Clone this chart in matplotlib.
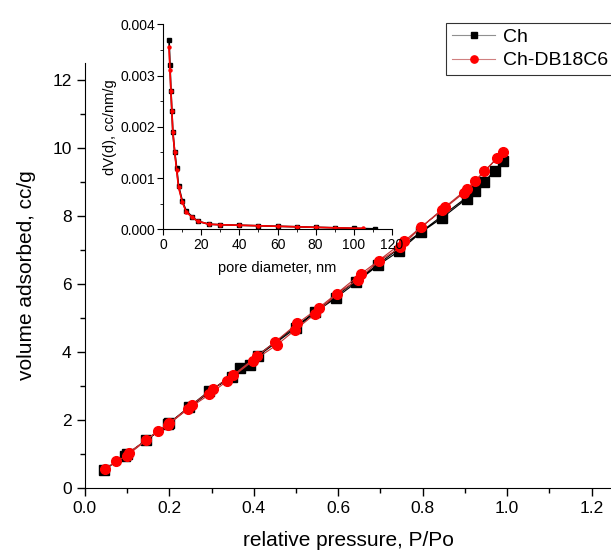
import matplotlib.pyplot as plt
from matplotlib.ticker import MultipleLocator

plt.rcParams['font.family'] = ['Liberation Sans', 'DejaVu Sans']

# isotherm: relative pressure P/Po vs volume adsorbed (cc/g), adsorption then desorption
p_ch = [0.046, 0.094, 0.145, 0.196, 0.246, 0.294, 0.348, 0.39, 0.41, 0.5, 0.546, 0.594,
        0.643, 0.694, 0.745, 0.797, 0.845, 0.904, 0.946, 0.99,
        0.971, 0.923, 0.368, 0.2, 0.1]
v_ch = [0.52, 0.93, 1.39, 1.86, 2.37, 2.84, 3.25, 3.6, 3.87, 4.7, 5.16, 5.58,
        6.04, 6.54, 6.97, 7.52, 7.93, 8.5, 8.98, 9.6,
        9.32, 8.72, 3.51, 1.9, 0.98]

p_db = [0.048, 0.073, 0.099, 0.145, 0.173, 0.196, 0.245, 0.295, 0.336, 0.397, 0.456,
        0.497, 0.545, 0.597, 0.646, 0.696, 0.747, 0.796, 0.846, 0.897, 0.946, 0.99,
        0.976, 0.925, 0.904, 0.853, 0.756, 0.655, 0.554, 0.503, 0.45, 0.408, 0.35,
        0.303, 0.253, 0.2, 0.104]
v_db = [0.55, 0.77, 0.93, 1.39, 1.67, 1.84, 2.32, 2.74, 3.13, 3.72, 4.21,
        4.63, 5.11, 5.7, 6.12, 6.66, 7.07, 7.66, 8.16, 8.67, 9.31, 9.89,
        9.69, 9.03, 8.78, 8.26, 7.25, 6.3, 5.29, 4.83, 4.28, 3.87, 3.3,
        2.91, 2.43, 1.9, 1.03]

# pore size distribution
d_ch = [3, 3.5, 4, 4.5, 5, 6, 7, 8, 10, 12, 15, 18, 24, 30, 40, 50, 60, 70, 80, 90, 100, 111]
dv_ch = [0.0037, 0.0032, 0.0027, 0.0023, 0.0019, 0.0015, 0.0012, 0.00085, 0.00055, 0.00036,
         0.00025, 0.00016, 0.0001, 0.00009, 0.00008, 0.00007, 0.00006, 0.00005, 0.00004,
         0.00003, 0.00002, 0.00001]
d_db = [3, 3.5, 4, 4.5, 5, 6, 7, 8, 10, 12, 15, 18, 24, 30, 40, 50, 60, 70, 80, 90, 105]
dv_db = [0.00355, 0.0031, 0.0027, 0.0023, 0.0019, 0.0015, 0.00115, 0.00082, 0.00053, 0.00034,
         0.00024, 0.00016, 0.0001, 0.00009, 0.00008, 0.00007, 0.00006, 0.00005, 0.00004,
         0.00003, 0.00002]

fig = plt.figure(figsize=(6.11, 5.5), dpi=100)
ax = fig.add_axes([0.139, 0.1136, 0.8638, 0.772])

ax.plot(p_ch, v_ch, color='black', lw=0.8, marker='s', ms=6.5, mfc='black', mec='black',
        label='Ch')
ax.plot(p_db, v_db, color='#c03030', lw=0.8, marker='o', ms=7, mfc='red', mec='red',
        label='Ch-DB18C6')

ax.set_xlim(0, 1.25)
ax.set_ylim(0, 12.5)
ax.xaxis.set_major_locator(MultipleLocator(0.2))
ax.xaxis.set_minor_locator(MultipleLocator(0.1))
ax.yaxis.set_major_locator(MultipleLocator(2))
ax.yaxis.set_minor_locator(MultipleLocator(1))
ax.spines['top'].set_visible(False)
ax.spines['right'].set_visible(False)
ax.tick_params(which='both', direction='out', labelsize=12.5, width=1)
ax.tick_params(which='major', length=6)
ax.tick_params(which='minor', length=3.5)
ax.set_xlabel('relative pressure, P/Po', fontsize=15, labelpad=11)
ax.set_ylabel('volume adsorbed, cc/g', fontsize=15, labelpad=12)

leg = ax.legend(loc='upper left', bbox_to_anchor=(0.685, 1.095), fontsize=14, frameon=True,
                fancybox=False, edgecolor='black', handlelength=2.2, handletextpad=0.4,
                borderpad=0.3, labelspacing=0.3, markerscale=0.75, borderaxespad=0)
leg.get_frame().set_linewidth(0.8)
leg.get_lines()[0].set_color('#909090')
leg.get_lines()[1].set_color('#d08080')

ins = fig.add_axes([0.2673, 0.583, 0.3738, 0.3727])
ins.plot(d_ch, dv_ch, color='black', lw=1.2, marker='s', ms=2.2)
ins.plot(d_db, dv_db, color='red', lw=1.2, marker='o', ms=2.2)
ins.set_xlim(0, 120)
ins.set_ylim(0, 0.004)
ins.xaxis.set_major_locator(MultipleLocator(20))
ins.xaxis.set_minor_locator(MultipleLocator(10))
ins.yaxis.set_major_locator(MultipleLocator(0.001))
ins.yaxis.set_minor_locator(MultipleLocator(0.0005))
ins.yaxis.set_major_formatter(plt.FormatStrFormatter('%.3f'))
ins.spines['top'].set_visible(False)
ins.spines['right'].set_visible(False)
ins.tick_params(which='both', direction='out', labelsize=10, pad=2)
ins.tick_params(which='major', length=4)
ins.tick_params(which='minor', length=2.5)
ins.set_xlabel('pore diameter, nm', fontsize=10.5, labelpad=7)
ins.set_ylabel('dV(d), cc/nm/g', fontsize=10.5, labelpad=2)

fig.savefig('out.png', dpi=100)
